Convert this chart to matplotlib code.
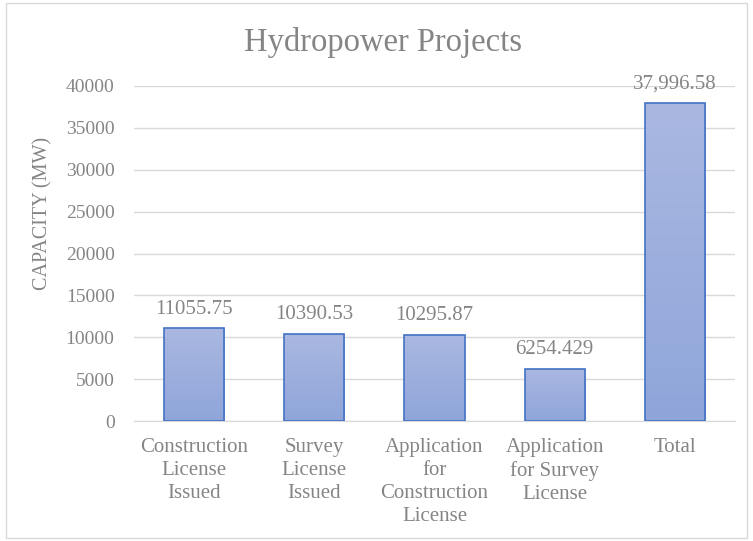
import matplotlib
matplotlib.use("Agg")
import matplotlib.pyplot as plt
import numpy as np
from matplotlib.colors import LinearSegmentedColormap
from matplotlib.patches import Rectangle

categories = [
    "Construction\nLicense\nIssued",
    "Survey\nLicense\nIssued",
    "Application\nfor\nConstruction\nLicense",
    "Application\nfor Survey\nLicense",
    "Total",
]
capacity_mw = [11055.75, 10390.53, 10295.87, 6254.429, 37996.58]
value_labels = ["11055.75", "10390.53", "10295.87", "6254.429", "37,996.58"]
y_ticks = [0, 5000, 10000, 15000, 20000, 25000, 30000, 35000, 40000]

TEXT_GREY = "#858585"
GRID_GREY = "#d9d9d9"
EDGE_BLUE = "#4472c4"

plt.rcParams["font.family"] = ["Liberation Serif", "DejaVu Serif"]

fig = plt.figure(figsize=(7.53, 5.41), dpi=100)
ax = fig.add_axes([134 / 753, 1 - 421 / 541, (735 - 134) / 753, (421 - 86) / 541])

# outer chart border
fig.add_artist(Rectangle((6 / 753, 3 / 541), 741 / 753, 535 / 541,
                         transform=fig.transFigure, fill=False,
                         edgecolor=GRID_GREY, linewidth=1.0))

x = np.arange(len(categories))
bars = ax.bar(x, capacity_mw, width=0.5, color="none", edgecolor=EDGE_BLUE,
              linewidth=1.2, zorder=3)

# vertical gradient fill, light at top, darker at bottom
grad_cmap = LinearSegmentedColormap.from_list("bargrad", ["#8fa5da", "#aab8e1"])
grad = np.linspace(0, 1, 256).reshape(-1, 1)
for bar in bars:
    bx, by = bar.get_x(), bar.get_y()
    bw, bh = bar.get_width(), bar.get_height()
    im = ax.imshow(grad, cmap=grad_cmap, origin="lower", aspect="auto",
                   extent=(bx, bx + bw, by, by + bh), zorder=2)
    im.set_clip_path(bar)

for xi, val, lab in zip(x, capacity_mw, value_labels):
    ax.annotate(lab, (xi, val), xytext=(0, 7), textcoords="offset points",
                ha="center", va="bottom", fontsize=15, color=TEXT_GREY)

ax.set_xlim(-0.5, len(categories) - 0.5)
ax.set_ylim(0, 40000)
ax.set_yticks(y_ticks)
ax.set_yticklabels([str(t) for t in y_ticks])
ax.set_xticks(x)
ax.set_xticklabels(categories, linespacing=1.3)
ax.tick_params(axis="y", length=0, labelsize=14, colors=TEXT_GREY, pad=14)
ax.tick_params(axis="x", length=0, labelsize=15, colors=TEXT_GREY, pad=12)

ax.yaxis.grid(True, color=GRID_GREY, linewidth=1.0, zorder=0)
ax.set_axisbelow(True)
for side in ["top", "right", "left"]:
    ax.spines[side].set_visible(False)
ax.spines["bottom"].set_color(GRID_GREY)

fig.text(383 / 753, 1 - 43 / 541, "Hydropower Projects", ha="center",
         va="center", fontsize=23.5, color=TEXT_GREY)
fig.text(43 / 753, 1 - 213 / 541, "CAPACITY (MW)", ha="center", va="center",
         rotation=90, fontsize=14.5, color=TEXT_GREY)

fig.savefig("out.png", dpi=100)
